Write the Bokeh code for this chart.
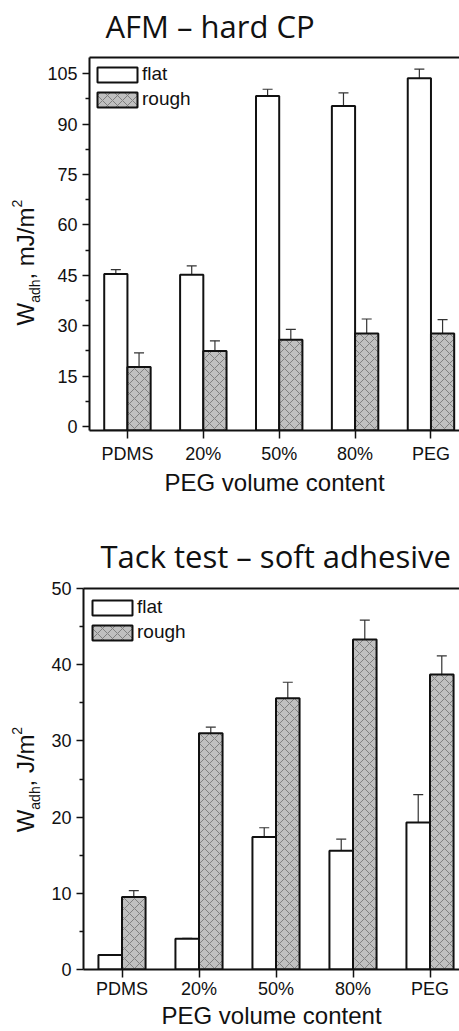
from bokeh.plotting import figure
from bokeh.models import (ColumnDataSource, Range1d, FixedTicker, LinearAxis,
                          Whisker, TeeHead, Legend, LegendItem)
from bokeh.layouts import column, row
from bokeh.embed import file_html
from bokeh.resources import INLINE
from bokeh.core.properties import value
import math

# ---- data -------------------------------------------------------------
categories = ["PDMS", "20%", "50%", "80%", "PEG"]

afm_flat = [45.4, 45.2, 98.4, 95.4, 103.7]
afm_flat_err = [1.3, 2.6, 2.0, 3.9, 2.7]
afm_rough = [17.7, 22.5, 25.8, 27.7, 27.7]
afm_rough_err = [4.2, 3.0, 3.1, 4.3, 4.1]

tack_flat = [1.9, 4.05, 17.4, 15.6, 19.3]
tack_flat_err = [0.05, 0.05, 1.2, 1.5, 3.65]
tack_rough = [9.5, 31.0, 35.6, 43.3, 38.7]
tack_rough_err = [0.85, 0.8, 2.1, 2.55, 2.45]

afm_major = [0, 15, 30, 45, 60, 75, 90, 105]
afm_minor = [7.5, 22.5, 37.5, 52.5, 67.5, 82.5, 97.5]
tack_major = [0, 10, 20, 30, 40, 50]
tack_minor = [5, 15, 25, 35, 45]

# ---- style ------------------------------------------------------------
AXIS_FONT = "Liberation Sans"
TITLE_FONT = "Open Sans"
INK = "#111111"
BAR_W = 0.306
OFF = BAR_W / 2
YLAB_W = 44          # width of the strip holding the vertical y title

# advance widths (em) of the Liberation Sans glyphs used in the y titles
ADV = {"W": 0.944, "a": 0.556, "d": 0.556, "h": 0.556, ",": 0.278, " ": 0.278,
       "m": 0.833, "J": 0.5, "/": 0.278, "2": 0.556}
# distance (em) from the middle of the text box down to the baseline
MID_TO_BASE = {AXIS_FONT: (0.905 + 0.212) / 2 - 0.212,
               TITLE_FONT: (1.069 + 0.293) / 2 - 0.293}


def advance(s, size):
    return sum(ADV[c] for c in s) * size


def text_canvas(width, height, top=0, bottom=0):
    """A bare figure in which data units are canvas pixels, y growing downwards.

    top/bottom give the border sizes, so that when the strip's frame is aligned
    with a neighbouring chart the pixel mapping still holds."""
    t = figure(width=width, height=height, output_backend="svg", toolbar_location=None,
               x_range=Range1d(0, width), y_range=Range1d(height - bottom, top),
               x_axis_type=None, y_axis_type=None, outline_line_color=None,
               min_border=0, min_border_left=0, min_border_right=0,
               min_border_top=top, min_border_bottom=bottom)
    t.grid.visible = False
    return t


def title_strip(title, height, x, baseline, size=31):
    t = text_canvas(459, height)
    t.text(x=[x], y=[baseline - MID_TO_BASE[TITLE_FONT] * size], text=[title],
           text_font=value(TITLE_FONT), text_font_size=f"{size}px",
           text_align="left", text_baseline="middle", text_color=INK)
    return t


def ytitle_strip(unit, height, top, bottom, x_base, y_start, big=24, small=14):
    """W_adh, <unit>/m^2 written bottom-to-top from separate pieces."""
    t = text_canvas(YLAB_W, height, top, bottom)
    pieces = [("W", big, 0), ("adh", small, 6), (", " + unit + "/m", big, 0), ("2", small, -12)]
    y = y_start
    for txt, size, dx in pieces:
        t.text(x=[x_base + dx - MID_TO_BASE[AXIS_FONT] * size], y=[y], text=[txt],
               angle=math.pi / 2, text_font=value(AXIS_FONT), text_font_size=f"{size}px",
               text_align="left", text_baseline="middle", text_color=INK)
        y -= advance(txt, size)
    return t


def make_chart(flat, flat_err, rough, rough_err, y_range, major, minor,
               x_end, height, b_left, b_top, b_bottom, legend_xy, label_standoffs):
    n = len(categories)
    xc = [i + 1 for i in range(n)]
    base = y_range[0]
    src = ColumnDataSource(dict(
        fx=[x - OFF for x in xc], rx=[x + OFF for x in xc],
        flat=flat, rough=rough,
        f_up=[v + e for v, e in zip(flat, flat_err)], f_lo=[v - e for v, e in zip(flat, flat_err)],
        r_up=[v + e for v, e in zip(rough, rough_err)], r_lo=[v - e for v, e in zip(rough, rough_err)],
    ))

    p = figure(width=459 - YLAB_W, height=height, output_backend="svg", toolbar_location=None,
               x_range=Range1d(0.5, x_end), y_range=Range1d(*y_range),
               min_border_left=b_left, min_border_right=0,
               min_border_top=b_top, min_border_bottom=b_bottom,
               outline_line_color=None, background_fill_color="white")
    p.grid.visible = False

    r_flat = p.vbar(x="fx", top="flat", bottom=base, width=BAR_W, source=src,
                    fill_color="white", line_color=INK, line_width=2)
    r_rough = p.vbar(x="rx", top="rough", bottom=base, width=BAR_W, source=src,
                     fill_color="#c0c0c0", line_color=INK, line_width=2,
                     hatch_pattern="diagonal_cross", hatch_color="#808080",
                     hatch_scale=10, hatch_weight=1)

    for b, up, lo in (("fx", "f_up", "f_lo"), ("rx", "r_up", "r_lo")):
        p.add_layout(Whisker(base=b, upper=up, lower=lo, source=src,
                             line_color="#333333", line_width=1.2,
                             upper_head=TeeHead(size=10, line_color="#333333", line_width=1.2),
                             lower_head=TeeHead(size=10, line_color="#333333", line_width=1.2)))

    # x axis
    xa = p.xaxis[0]
    xa.ticker = FixedTicker(ticks=xc, minor_ticks=[])
    xa.major_label_overrides = {x: c for x, c in zip(xc, categories)}
    xa.axis_label = "PEG volume content"
    xa.axis_label_text_font = AXIS_FONT
    xa.axis_label_text_font_size = "24px"
    xa.axis_label_text_font_style = "normal"
    xa.axis_label_text_color = INK
    xa.major_label_standoff = label_standoffs[0]
    xa.axis_label_standoff = label_standoffs[1]

    # y axis
    ya = p.yaxis[0]
    ya.ticker = FixedTicker(ticks=major, minor_ticks=minor)
    for ax in (xa, ya):
        ax.axis_line_width = 2
        ax.axis_line_color = INK
        ax.major_tick_line_color = INK
        ax.major_tick_line_width = 1.5
        ax.minor_tick_line_color = INK
        ax.minor_tick_line_width = 1.5
        ax.major_tick_in = 0
        ax.minor_tick_in = 0
        ax.major_label_text_font = AXIS_FONT
        ax.major_label_text_font_size = "18px"
        ax.major_label_text_color = INK
    xa.major_tick_out = 8
    ya.major_tick_out = 7
    ya.minor_tick_out = 4
    ya.major_label_standoff = 5

    # frame top line
    top = LinearAxis(ticker=FixedTicker(ticks=[]), axis_line_width=2, axis_line_color=INK,
                     major_tick_line_color=None, minor_tick_line_color=None,
                     major_tick_out=0, minor_tick_out=0, major_label_standoff=0,
                     major_label_text_font_size="0px")
    p.add_layout(top, "above")

    legend = Legend(items=[LegendItem(label="flat", renderers=[r_flat]),
                           LegendItem(label="rough", renderers=[r_rough])],
                    location=legend_xy, margin=0, padding=0, spacing=3,
                    glyph_width=50, glyph_height=19, label_standoff=-3,
                    label_text_font=AXIS_FONT, label_text_font_size="19px",
                    label_text_color=INK, border_line_color=None,
                    background_fill_alpha=0)
    p.add_layout(legend)
    return p


# ---- upper panel: AFM -------------------------------------------------
t1 = title_strip("AFM \u2013 hard CP", 48, 105, 38)
c1 = make_chart(afm_flat, afm_flat_err, afm_rough, afm_rough_err,
                (-1.2, 109.85), afm_major, afm_minor,
                x_end=5.376, height=462, b_left=86 - YLAB_W, b_top=9, b_bottom=80,
                legend_xy=(3, 320), label_standoffs=(5, 2))
y1 = ytitle_strip("mJ", 462, 9, 80, 33, 277)

# ---- lower panel: tack test -------------------------------------------
t2 = title_strip("Tack test \u2013 soft adhesive", 68, 100, 58)
c2 = make_chart(tack_flat, tack_flat_err, tack_rough, tack_rough_err,
                (0, 50), tack_major, tack_minor,
                x_end=5.383, height=453, b_left=83 - YLAB_W, b_top=10, b_bottom=60,
                legend_xy=(4, 326), label_standoffs=(1, 0))
y2 = ytitle_strip("J", 453, 10, 60, 33, 255)

layout = column(t1, row(y1, c1, spacing=0), t2, row(y2, c2, spacing=0), spacing=0)
open("out.html", "w").write(file_html(layout, INLINE))
